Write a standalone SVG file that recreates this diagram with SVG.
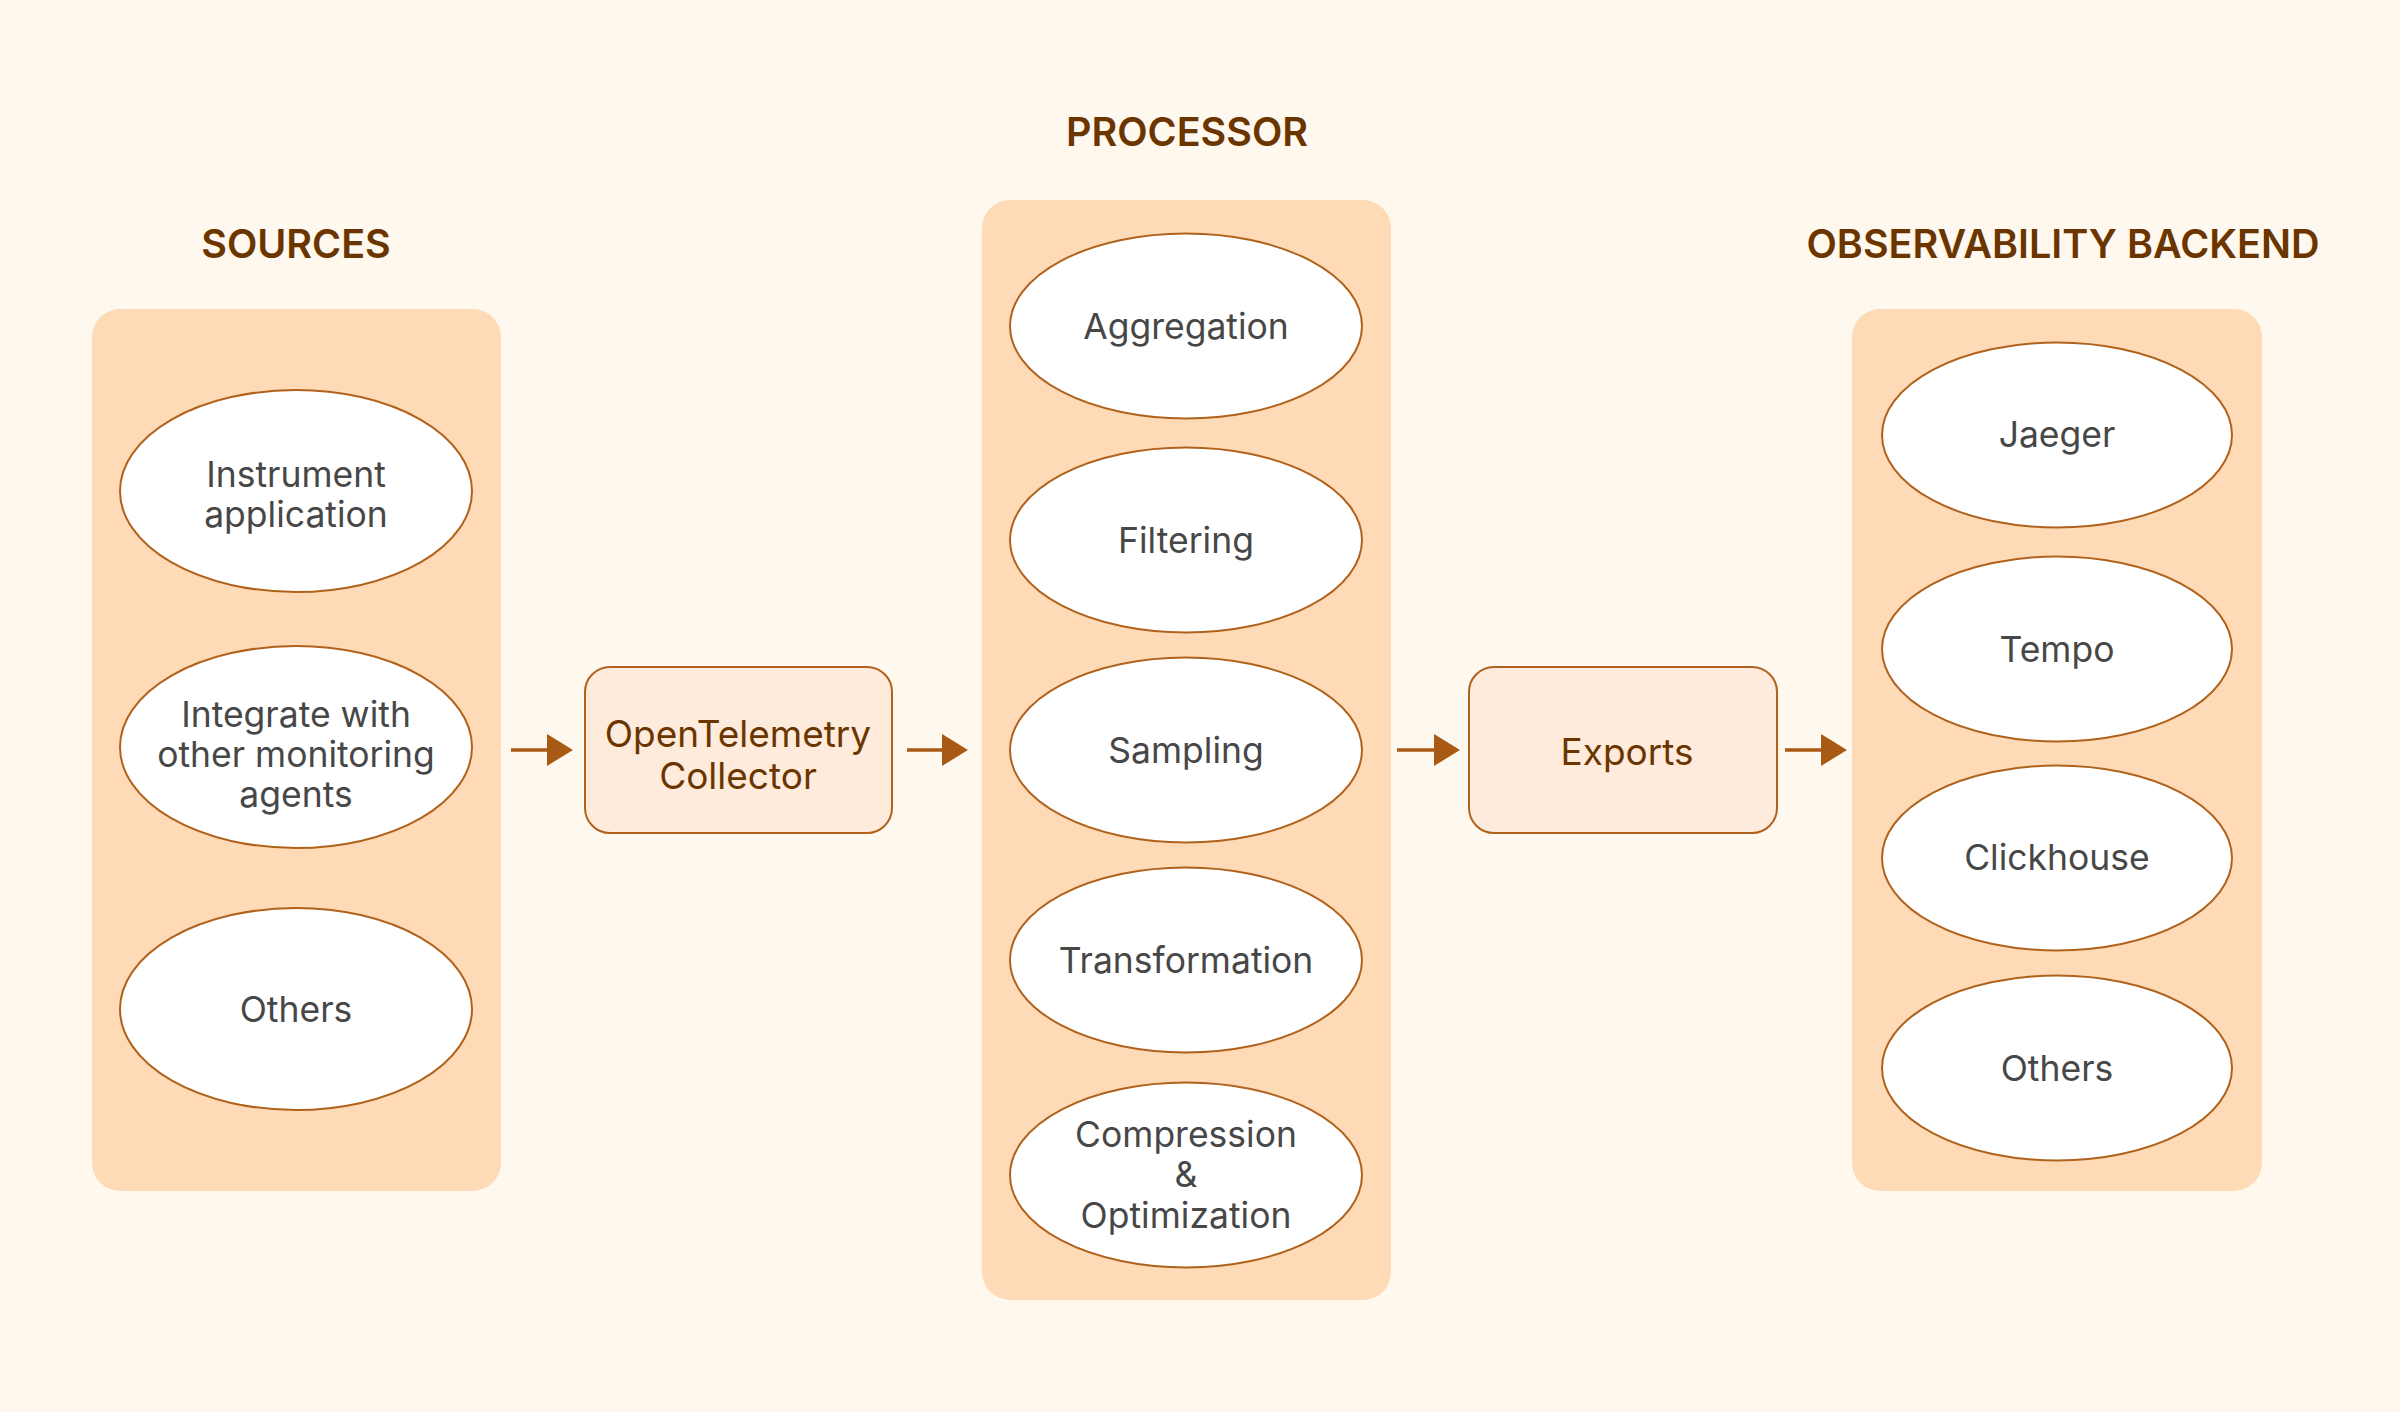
<svg xmlns="http://www.w3.org/2000/svg" width="2400" height="1412" viewBox="0 0 2400 1412">
  <defs>
    <style>
      .panel { fill: #FEDBB6; }
      .node ellipse { fill: #FFFFFF; stroke: #B0621C; stroke-width: 2; }
      .box rect { fill: #FEEBDC; stroke: #B0621C; stroke-width: 2; }
      .title { font-family: Inter, "Liberation Sans", sans-serif; font-weight: 600; font-size: 39.5px; fill: #6B3500; text-anchor: middle; }
      .label { font-family: Inter, "Liberation Sans", sans-serif; font-size: 35.5px; fill: #474747; text-anchor: middle; }
      .boxlabel { font-family: Inter, "Liberation Sans", sans-serif; font-size: 37px; fill: #6B3500; text-anchor: middle; }
      .conn { stroke: #A85A14; stroke-width: 3.5; fill: none; }
    </style>
    <marker id="arrow" viewBox="0 0 26 32" refX="0" refY="16" markerWidth="26" markerHeight="32" markerUnits="userSpaceOnUse" orient="auto">
      <path d="M0,0 L26,16 L0,32 Z" fill="#A85A14"/>
    </marker>
  </defs>
  <rect x="0" y="0" width="2400" height="1412" fill="#FFF8EE"/>

  <!-- Titles -->
  <text class="title" x="296" y="258">SOURCES</text>
  <text class="title" x="1187" y="146">PROCESSOR</text>
  <text class="title" x="2063" y="258">OBSERVABILITY BACKEND</text>

  <!-- Panels -->
  <g id="sources-panel"><rect class="panel" x="92" y="309" width="409" height="882" rx="28" ry="28"/></g>
  <g id="processor-panel"><rect class="panel" x="982" y="200" width="409" height="1100" rx="28" ry="28"/></g>
  <g id="backend-panel"><rect class="panel" x="1852" y="309" width="410" height="882" rx="28" ry="28"/></g>

  <!-- Sources -->
  <g id="src-instrument" class="node">
    <ellipse cx="296" cy="491" rx="176" ry="101"/>
    <text class="label" x="296" y="487">Instrument</text>
    <text class="label" x="296" y="527">application</text>
  </g>
  <g id="src-integrate" class="node">
    <ellipse cx="296" cy="747" rx="176" ry="101"/>
    <text class="label" x="296" y="727">Integrate with</text>
    <text class="label" x="296" y="767">other monitoring</text>
    <text class="label" x="296" y="807">agents</text>
  </g>
  <g id="src-others" class="node">
    <ellipse cx="296" cy="1009" rx="176" ry="101"/>
    <text class="label" x="296" y="1022">Others</text>
  </g>

  <!-- Collector -->
  <g id="collector" class="box">
    <rect x="585" y="667" width="307" height="166" rx="25" ry="25"/>
    <text class="boxlabel" x="738" y="747">OpenTelemetry</text>
    <text class="boxlabel" x="738" y="789">Collector</text>
  </g>

  <!-- Processor -->
  <g id="proc-aggregation" class="node">
    <ellipse cx="1186" cy="326" rx="176" ry="92.5"/>
    <text class="label" x="1186" y="339">Aggregation</text>
  </g>
  <g id="proc-filtering" class="node">
    <ellipse cx="1186" cy="540" rx="176" ry="92.5"/>
    <text class="label" x="1186" y="553">Filtering</text>
  </g>
  <g id="proc-sampling" class="node">
    <ellipse cx="1186" cy="750" rx="176" ry="92.5"/>
    <text class="label" x="1186" y="763">Sampling</text>
  </g>
  <g id="proc-transformation" class="node">
    <ellipse cx="1186" cy="960" rx="176" ry="92.5"/>
    <text class="label" x="1186" y="973">Transformation</text>
  </g>
  <g id="proc-compression" class="node">
    <ellipse cx="1186" cy="1175" rx="176" ry="92.5"/>
    <text class="label" x="1186" y="1147">Compression</text>
    <text class="label" x="1186" y="1187">&amp;</text>
    <text class="label" x="1186" y="1228">Optimization</text>
  </g>

  <!-- Exports -->
  <g id="exports" class="box">
    <rect x="1469" y="667" width="308" height="166" rx="25" ry="25"/>
    <text class="boxlabel" x="1627" y="765">Exports</text>
  </g>

  <!-- Backend -->
  <g id="be-jaeger" class="node">
    <ellipse cx="2057" cy="435" rx="175" ry="92.5"/>
    <text class="label" x="2057" y="447">Jaeger</text>
  </g>
  <g id="be-tempo" class="node">
    <ellipse cx="2057" cy="649" rx="175" ry="92.5"/>
    <text class="label" x="2057" y="662">Tempo</text>
  </g>
  <g id="be-clickhouse" class="node">
    <ellipse cx="2057" cy="858" rx="175" ry="92.5"/>
    <text class="label" x="2057" y="870">Clickhouse</text>
  </g>
  <g id="be-others" class="node">
    <ellipse cx="2057" cy="1068" rx="175" ry="92.5"/>
    <text class="label" x="2057" y="1081">Others</text>
  </g>

  <!-- Connectors -->
  <g id="connectors">
    <path class="conn" d="M511,750 L547,750" marker-end="url(#arrow)"/>
    <path class="conn" d="M907,750 L942,750" marker-end="url(#arrow)"/>
    <path class="conn" d="M1397,750 L1434,750" marker-end="url(#arrow)"/>
    <path class="conn" d="M1785,750 L1821,750" marker-end="url(#arrow)"/>
  </g>
</svg>
